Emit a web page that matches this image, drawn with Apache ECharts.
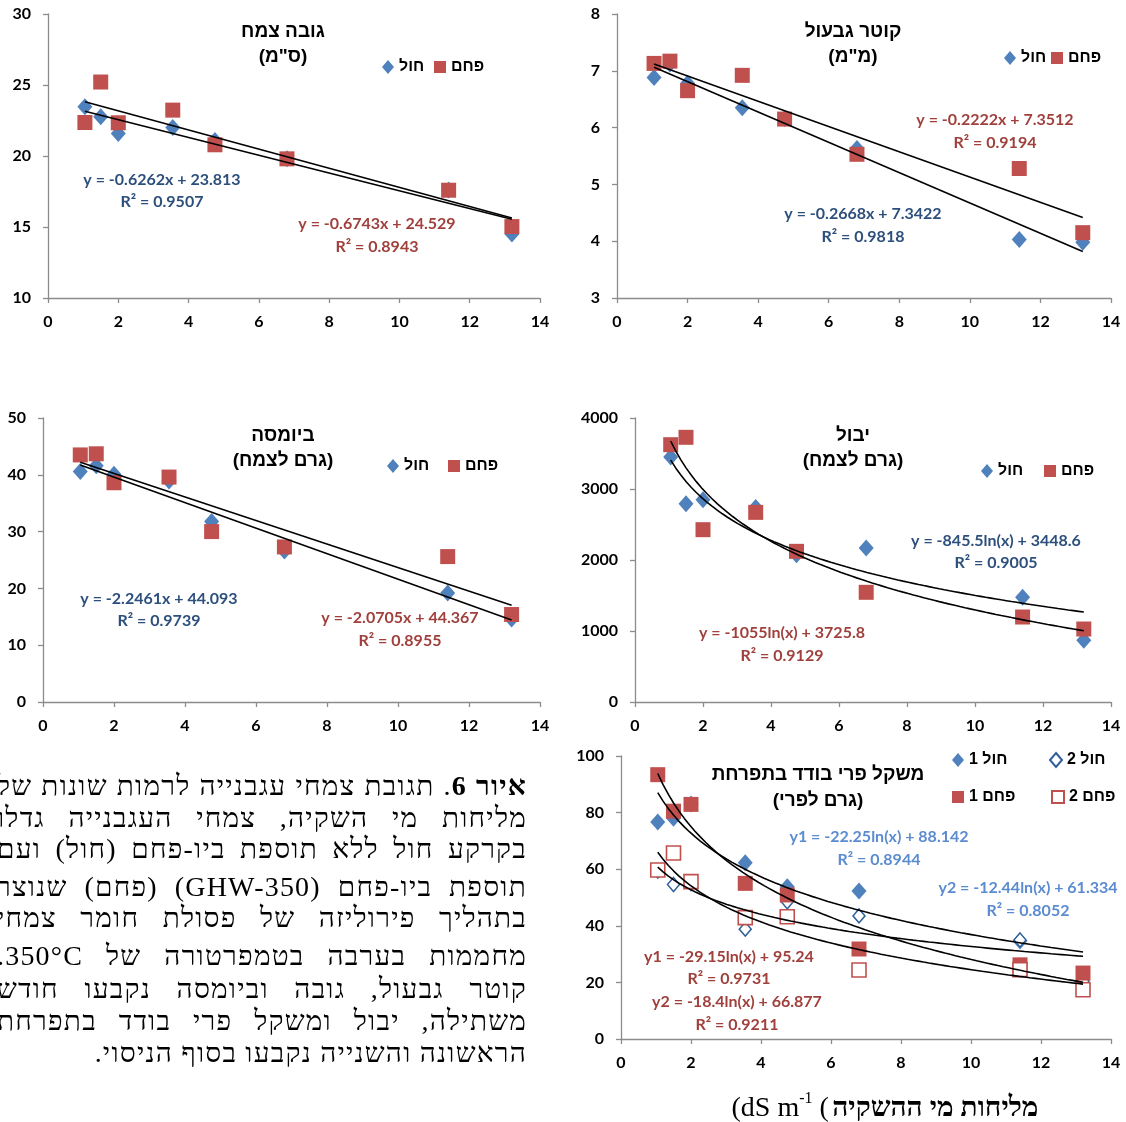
<!DOCTYPE html>
<html><head><meta charset="utf-8">
<script src="https://cdn.jsdelivr.net/npm/echarts@6/dist/echarts.min.js"></script>
<style>
html,body{margin:0;padding:0;background:#fff;overflow:hidden;}
#chart{position:absolute;left:0;top:0;width:1126px;height:1122px;}
#caption{position:absolute;left:0;top:0;width:1126px;height:1122px;overflow:hidden;pointer-events:none;}
.ln{position:absolute;left:-3px;width:530px;height:32px;line-height:32px;direction:rtl;text-align:justify;text-align-last:justify;font-family:'Liberation Serif','Times New Roman',serif;font-size:28px;letter-spacing:1.2px;color:#000;white-space:nowrap;}
.ln.last{text-align:right;text-align-last:right;}
</style>
</head><body>
<div id="chart"></div>
<div id="caption"></div>
<script>
// ---- data ----
const salinity = [1.05, 1.5, 2.0, 3.55, 4.75, 6.8, 11.4, 13.2];
const heightSand = [23.47, 22.76, 21.59, 22.01, 21.1, 19.8, 17.6, 14.5];
const heightChar = [22.36, 25.21, 22.34, 23.23, 20.79, 19.8, 17.59, 15.03];
const stemSand = [6.88, 7.12, 6.78, 6.35, 6.16, 5.63, 4.03, 3.98];
const stemChar = [7.13, 7.17, 6.65, 6.92, 6.15, 5.53, 5.28, 4.15];
const biomassSand = [40.6, 41.6, 40.1, 38.9, 31.8, 26.6, 19.2, 14.6];
const biomassChar = [43.5, 43.7, 38.6, 39.6, 30.0, 27.3, 25.6, 15.4];
const yieldSand = [3451, 2793, 2850, 2740, 2075, 2169, 1474, 869];
const yieldChar = [3624, 3728, 2427, 2671, 2122, 1545, 1197, 1028];
const fruitSand1 = [76.7, 78.0, 83.0, 62.3, 53.8, 52.3, 34.6, 19.2];
const fruitSand2 = [59.3, 54.6, 54.9, 38.8, 48.5, 43.5, 35.0, 20.5];
const fruitChar1 = [93.4, 80.5, 82.9, 55.0, 50.9, 31.8, 26.2, 23.3];
const fruitChar2 = [59.7, 65.7, 55.6, 42.9, 43.2, 24.4, 24.5, 17.4];

// printed trendline coefficients [slope, intercept]
const fitHeightSand = [-0.6262, 23.813], fitHeightChar = [-0.6743, 24.529];
const fitStemSand = [-0.2668, 7.3422], fitStemChar = [-0.2222, 7.3512];
const fitBiomassSand = [-2.2461, 44.093], fitBiomassChar = [-2.0705, 44.367];
const fitYieldSand = [-845.5, 3448.6], fitYieldChar = [-1055, 3725.8];
const fitFruitSand1 = [-22.25, 88.142], fitFruitSand2 = [-12.44, 61.334];
const fitFruitChar1 = [-29.15, 95.24], fitFruitChar2 = [-18.4, 66.877];

// axis ranges [min, max, interval]
const xRange = [0, 14, 2];
const yRanges = [[10, 30, 5], [3, 8, 1], [0, 50, 10], [0, 4000, 1000], [0, 100, 20]];

const titles = [
  ['גובה צמח', '(ס"מ)'],
  ['קוטר גבעול', '(מ"מ)'],
  ['ביומסה', '(גרם לצמח)'],
  ['יבול', '(גרם לצמח)'],
  ['משקל פרי בודד בתפרחת', '(גרם לפרי)']
];
const eqTexts = [
  ['y = -0.6262x + 23.813', 'R² = 0.9507', 'y = -0.6743x + 24.529', 'R² = 0.8943'],
  ['y = -0.2668x + 7.3422', 'R² = 0.9818', 'y = -0.2222x + 7.3512', 'R² = 0.9194'],
  ['y = -2.2461x + 44.093', 'R² = 0.9739', 'y = -2.0705x + 44.367', 'R² = 0.8955'],
  ['y = -845.5ln(x) + 3448.6', 'R² = 0.9005', 'y = -1055ln(x) + 3725.8', 'R² = 0.9129'],
  ['y1 = -22.25ln(x) + 88.142', 'R² = 0.8944', 'y2 = -12.44ln(x) + 61.334', 'R² = 0.8052',
   'y1 = -29.15ln(x) + 95.24', 'R² = 0.9731', 'y2 = -18.4ln(x) + 66.877', 'R² = 0.9211']
];
const nameSand = 'חול', nameChar = 'פחם';
const names5 = ['חול 1', 'חול 2', 'פחם 1', 'פחם 2'];

// ---- styles / layout ----
const BLUE = '#4F81BD', RED = '#C0504D';
const EQ_BLUE = '#2C4F7C', EQ_RED = '#A0403C', EQ_BLUE5 = '#5B8BD0';
const grids = [
  {left: 48, top: 14, width: 492, height: 284},
  {left: 617, top: 14, width: 494, height: 284},
  {left: 43, top: 418, width: 497, height: 284},
  {left: 635, top: 418, width: 476, height: 284},
  {left: 621, top: 756, width: 490, height: 283}
];

function pts(ys) { return salinity.map((x, i) => [x, ys[i]]); }
function linFit(c) {
  const a = salinity[0], b = salinity[salinity.length - 1];
  return [[a, c[0] * a + c[1]], [b, c[0] * b + c[1]]];
}
function logFit(c) {
  const a = salinity[0], b = salinity[salinity.length - 1], out = [];
  const n = 80;
  for (let i = 0; i <= n; i++) {
    const x = a + (b - a) * i / n;
    out.push([x, c[0] * Math.log(x) + c[1]]);
  }
  return out;
}

const labelStyle = {color: '#000', fontWeight: 'bold', fontSize: 16, fontFamily: 'Lato'};
const xAxes = grids.map((g, i) => ({
  type: 'value', gridIndex: i, min: xRange[0], max: xRange[1], interval: xRange[2],
  axisLine: {show: true, onZero: false, lineStyle: {color: '#8c8c8c', width: 1.3}},
  axisTick: {show: true, length: 5, lineStyle: {color: '#8c8c8c', width: 1.3}},
  splitLine: {show: false},
  axisLabel: Object.assign({margin: 16, formatter: v => String(v)}, labelStyle)
}));
const yAxes = grids.map((g, i) => ({
  type: 'value', gridIndex: i, min: yRanges[i][0], max: yRanges[i][1], interval: yRanges[i][2],
  axisLine: {show: true, onZero: false, lineStyle: {color: '#8c8c8c', width: 1.3}},
  axisTick: {show: true, length: 5, lineStyle: {color: '#8c8c8c', width: 1.3}},
  splitLine: {show: false},
  axisLabel: Object.assign({margin: 17, formatter: v => String(v)}, labelStyle)
}));

const series = [];
function scatter(name, gi, ys, symbol, size, style) {
  series.push({type: 'scatter', name, xAxisIndex: gi, yAxisIndex: gi, data: pts(ys),
    symbol, symbolSize: size, itemStyle: Object.assign({opacity: 1}, style), z: 2, silent: true});
}
function trend(gi, data) {
  series.push({type: 'line', xAxisIndex: gi, yAxisIndex: gi, data, showSymbol: false,
    symbol: 'none', lineStyle: {color: '#000', width: 1.6}, z: 3, silent: true, smooth: false});
}
const sandStyle = {color: BLUE}, charStyle = {color: RED};
// chart 1-4
[[heightSand, heightChar, fitHeightSand, fitHeightChar, 'lin'],
 [stemSand, stemChar, fitStemSand, fitStemChar, 'lin'],
 [biomassSand, biomassChar, fitBiomassSand, fitBiomassChar, 'lin'],
 [yieldSand, yieldChar, fitYieldSand, fitYieldChar, 'log']].forEach((d, gi) => {
  scatter(nameSand, gi, d[0], 'diamond', [15, 17], sandStyle);
  scatter(nameChar, gi, d[1], 'rect', [15, 15], charStyle);
  const f = d[4] === 'lin' ? linFit : logFit;
  trend(gi, f(d[2]));
  trend(gi, f(d[3]));
});
// chart 5
scatter(names5[0], 4, fruitSand1, 'diamond', [15, 17], {color: BLUE});
scatter(names5[1], 4, fruitSand2, 'diamond', [12, 14], {color: '#fff', borderColor: '#2F5F98', borderWidth: 1.5});
scatter(names5[2], 4, fruitChar1, 'rect', [15, 15], {color: RED});
scatter(names5[3], 4, fruitChar2, 'rect', [14, 14], {color: '#fff', borderColor: RED, borderWidth: 1.6});
[fitFruitSand1, fitFruitSand2, fitFruitChar1, fitFruitChar2].forEach(c => trend(4, logFit(c)));

// legends: [name, icon, iconCenterX, centerY]
const legendItems = [
  [nameSand, 'diamond', 388, 67], [nameChar, 'rect', 440, 67],
  [nameSand, 'diamond', 1010, 58], [nameChar, 'rect', 1057, 58],
  [nameSand, 'diamond', 393, 466], [nameChar, 'rect', 454, 466],
  [nameSand, 'diamond', 987, 471], [nameChar, 'rect', 1050, 471],
  [names5[0], 'diamond', 958, 760], [names5[1], 'diamond', 1055, 760],
  [names5[2], 'rect', 958, 797], [names5[3], 'rect', 1057, 797]
];
const legends = legendItems.map(it => ({
  show: true, orient: 'horizontal', padding: 0, selectedMode: false,
  left: it[2] - 6, top: it[3] - 8, itemWidth: 12, itemHeight: it[1] === 'diamond' ? 14 : 12,
  itemGap: 0,
  data: [{name: it[0], icon: it[1]}],
  textStyle: {color: '#000', fontWeight: 'bold', fontSize: 16, fontFamily: 'Liberation Sans', lineHeight: 16, padding: [0, 0, 0, 0]}
}));

// graphic texts
const graphic = [];
function txt(x, y, text, fill, size, family, weight) {
  graphic.push({type: 'text', x, y, silent: true, z: 10,
    style: {text, fill, fontSize: size, fontFamily: family, fontWeight: weight || 'bold',
      align: 'center', verticalAlign: 'middle'}});
}
const titlePos = [[283, 32, 57], [853, 32, 57], [283, 436, 461], [853, 436, 461], [818, 775, 801]];
titles.forEach((t, i) => {
  txt(titlePos[i][0], titlePos[i][1], t[0], '#000', 19, 'Liberation Sans');
  txt(titlePos[i][0], titlePos[i][2], t[1], '#000', 19, 'Liberation Sans');
});
// equation positions: [x, yEq, yR2] for (sand, char)
const eqPos = [
  [[162, 180, 202], [377, 224, 247]],
  [[863, 214, 237], [995, 120, 143]],
  [[159, 599, 621], [400, 618, 641]],
  [[996, 541, 563], [782, 633, 656]]
];
eqPos.forEach((p, i) => {
  txt(p[0][0], p[0][1], eqTexts[i][0], EQ_BLUE, 16, 'Lato');
  txt(p[0][0], p[0][2], eqTexts[i][1], EQ_BLUE, 16, 'Lato');
  txt(p[1][0], p[1][1], eqTexts[i][2], EQ_RED, 16, 'Lato');
  txt(p[1][0], p[1][2], eqTexts[i][3], EQ_RED, 16, 'Lato');
});
const eq5 = [[879, 837, 860, EQ_BLUE5], [1028, 888, 911, EQ_BLUE5], [729, 957, 979, EQ_RED], [737, 1002, 1025, EQ_RED]];
eq5.forEach((p, k) => {
  txt(p[0], p[1], eqTexts[4][2 * k], p[3], 16, 'Lato');
  txt(p[0], p[2], eqTexts[4][2 * k + 1], p[3], 16, 'Lato');
});
// bottom axis title
graphic.push({type: 'text', x: 885, y: 1107, silent: true, z: 10,
  style: {
    text: '{a|(dS m}{s|-1}{a| (} {h|מליחות מי ההשקיה}',
    align: 'center', verticalAlign: 'middle',
    rich: {
      a: {fontFamily: 'Liberation Serif', fontSize: 28, fill: '#000', lineHeight: 32, verticalAlign: 'bottom'},
      s: {fontFamily: 'Liberation Serif', fontSize: 16, fill: '#000', lineHeight: 32, verticalAlign: 'top'},
      h: {fontFamily: 'Liberation Serif', fontSize: 28, fontWeight: 'bold', fill: '#000', lineHeight: 32, verticalAlign: 'bottom'}
    }
  }});

const chart = echarts.init(document.getElementById('chart'), null, {renderer: 'canvas'});
chart.setOption({
  backgroundColor: '#fff',
  animation: false,
  grid: grids,
  xAxis: xAxes,
  yAxis: yAxes,
  legend: legends,
  series,
  graphic
});

// caption paragraph
const captionLines = [
  '<b>איור 6</b>. תגובת צמחי עגבנייה לרמות שונות של',
  'מליחות מי השקיה, צמחי העגבנייה גדלו',
  'בקרקע חול ללא תוספת ביו-פחם (חול) ועם',
  'תוספת ביו-פחם (GHW-350) (פחם) שנוצר',
  'בתהליך פירוליזה של פסולת חומר צמחי',
  'מחממות בערבה בטמפרטורה של 350°C.',
  'קוטר גבעול, גובה וביומסה נקבעו חודש',
  'משתילה, יבול ומשקל פרי בודד בתפרחת',
  'הראשונה והשנייה נקבעו בסוף הניסוי.'
];
const captionY = [786, 818, 849, 887, 918, 956, 989, 1021, 1053];
const cap = document.getElementById('caption');
captionLines.forEach((t, i) => {
  const d = document.createElement('div');
  d.className = 'ln' + (i === captionLines.length - 1 ? ' last' : '');
  d.style.top = (captionY[i] - 16) + 'px';
  d.innerHTML = t;
  cap.appendChild(d);
});
</script>
</body></html>
